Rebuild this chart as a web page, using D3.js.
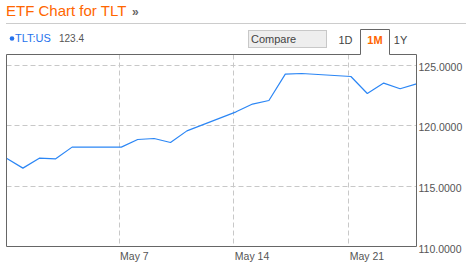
<!DOCTYPE html>
<html>
<head>
<meta charset="utf-8">
<script src="https://cdn.jsdelivr.net/npm/d3@7"></script>
<style>
  html, body { margin: 0; padding: 0; background: #fff; }
  svg { display: block; font-family: "Liberation Sans", Arial, sans-serif; }
</style>
</head>
<body>
<svg id="chart"></svg>
<script>
// daily closes for TLT, 30 Apr - 25 May 2012
const dates = ['2012-04-30', '2012-05-01', '2012-05-02', '2012-05-03', '2012-05-04',
    '2012-05-07', '2012-05-08', '2012-05-09', '2012-05-10', '2012-05-11',
    '2012-05-14', '2012-05-15', '2012-05-16', '2012-05-17', '2012-05-18',
    '2012-05-21', '2012-05-22', '2012-05-23', '2012-05-24', '2012-05-25'];
const closes = [117.28, 116.46, 117.28, 117.23, 118.19,
    118.19, 118.82, 118.90, 118.57, 119.53,
    121.10, 121.74, 122.03, 124.21, 124.26,
    124.01, 122.61, 123.47, 123.00, 123.40];
const yTicks = [110, 115, 120, 125];
const xTicks = ['2012-05-07', '2012-05-14', '2012-05-21'];
const ranges = ['1D', '1M', '1Y'];
const activeRange = '1M';
const symbol = 'TLT:US';
const lastValue = '123.4';

const width = 471;
const height = 270;
const plot = { left: 6.5, right: 416.5, top: 54.5, bottom: 246.5 };
const quoteHour = 4; // quotes are stamped a few hours after midnight

const parse = d3.utcParse('%Y-%m-%d');
const data = dates.map((d, i) => ({
    date: d3.utcHour.offset(parse(d), quoteHour),
    value: closes[i]
}));

const svg = d3.select('#chart')
    .attr('width', width)
    .attr('height', height);

// header
const title = svg.append('text')
    .attr('x', 6)
    .attr('y', 16)
    .attr('fill', '#f60')
    .style('font-size', '15px')
    .text('ETF Chart for TLT');

svg.append('text')
    .attr('x', 132)
    .attr('y', 16)
    .attr('fill', '#666')
    .style('font-size', '12px')
    .style('font-weight', 'bold')
    .text('»');

svg.append('line')
    .attr('x1', 6).attr('x2', 466)
    .attr('y1', 23.5).attr('y2', 23.5)
    .attr('stroke', '#ccc');

// legend
svg.append('circle')
    .attr('cx', 12)
    .attr('cy', 38.5)
    .attr('r', 2.3)
    .attr('fill', '#2672ec');

svg.append('text')
    .attr('x', 15)
    .attr('y', 42)
    .attr('fill', '#2672ec')
    .style('font-size', '11px')
    .text(symbol);

svg.append('text')
    .attr('x', 59)
    .attr('y', 42)
    .attr('fill', '#555')
    .style('font-size', '10px')
    .text(lastValue);

// compare box
svg.append('rect')
    .attr('x', 248.5).attr('y', 30.5)
    .attr('width', 78).attr('height', 17)
    .attr('fill', '#eee')
    .attr('stroke', '#c8c8c8');

svg.append('text')
    .attr('x', 251)
    .attr('y', 43)
    .attr('fill', '#444')
    .style('font-size', '11px')
    .text('Compare');

const x = d3.scaleUtc()
    .domain(d3.extent(data, (d) => d.date))
    .range([plot.left, plot.right]);

const y = d3.scaleLinear()
    .domain([110, 125])
    .range([plot.bottom, 64.5]);

// grid
const grid = svg.append('g')
    .attr('stroke', '#c8c8c8')
    .attr('stroke-dasharray', '5,3');

grid.selectAll('.hgrid')
    .data(yTicks.slice(1))
    .enter()
    .append('line')
    .attr('class', 'hgrid')
    .attr('x1', plot.left)
    .attr('x2', plot.right)
    .attr('y1', (d) => Math.round(y(d)) + 0.5)
    .attr('y2', (d) => Math.round(y(d)) + 0.5);

grid.selectAll('.vgrid')
    .data(xTicks.map(parse))
    .enter()
    .append('line')
    .attr('class', 'vgrid')
    .attr('x1', (d) => Math.round(x(d)) + 0.5)
    .attr('x2', (d) => Math.round(x(d)) + 0.5)
    .attr('y1', plot.top)
    .attr('y2', plot.bottom);

// price line
const line = d3.line()
    .x((d) => x(d.date))
    .y((d) => y(d.value));

svg.append('path')
    .datum(data)
    .attr('fill', 'none')
    .attr('stroke', '#2b86f5')
    .attr('stroke-width', 1.2)
    .attr('stroke-linejoin', 'round')
    .attr('d', line);

// frame with the active tab cut into the top edge
const tabX = [360.5, 389.5];
const tabTop = 29.5;
const frame = d3.path();
frame.moveTo(plot.left, plot.top);
frame.lineTo(plot.left, plot.bottom);
frame.lineTo(plot.right, plot.bottom);
frame.lineTo(plot.right, plot.top);
frame.lineTo(tabX[1], plot.top);
frame.lineTo(tabX[1], tabTop);
frame.lineTo(tabX[0], tabTop);
frame.lineTo(tabX[0], plot.top);
frame.closePath();

svg.append('path')
    .attr('d', frame.toString())
    .attr('fill', 'none')
    .attr('stroke', '#666');

// range buttons
const rangeX = { '1D': 345.5, '1M': 375, '1Y': 400.5 };
svg.selectAll('.range')
    .data(ranges)
    .enter()
    .append('text')
    .attr('class', 'range')
    .attr('x', (d) => rangeX[d])
    .attr('y', 44)
    .attr('text-anchor', 'middle')
    .attr('fill', (d) => d === activeRange ? '#f60' : '#444')
    .style('font-size', '11px')
    .style('font-weight', (d) => d === activeRange ? 'bold' : 'normal')
    .text((d) => d);

// axes
const yAxis = svg.append('g')
    .attr('transform', `translate(${plot.right},0)`)
    .call(d3.axisRight(y).tickValues(yTicks).tickSize(0).tickPadding(2)
        .tickFormat(d3.format('.4f')));
yAxis.select('.domain').remove();
yAxis.selectAll('text')
    .attr('dy', '0.55em')
    .attr('fill', '#555')
    .style('font-family', '"Liberation Sans", Arial, sans-serif')
    .style('font-size', '10.5px');

const xAxis = svg.append('g')
    .attr('transform', `translate(0,${plot.bottom})`)
    .call(d3.axisBottom(x).tickValues(xTicks.map(parse)).tickSize(0).tickPadding(6)
        .tickFormat(d3.utcFormat('%b %-d')));
xAxis.select('.domain').remove();
xAxis.selectAll('text')
    .attr('text-anchor', 'start')
    .attr('dx', '1px')
    .attr('fill', '#555')
    .style('font-family', '"Liberation Sans", Arial, sans-serif')
    .style('font-size', '10.5px');
</script>
</body>
</html>
